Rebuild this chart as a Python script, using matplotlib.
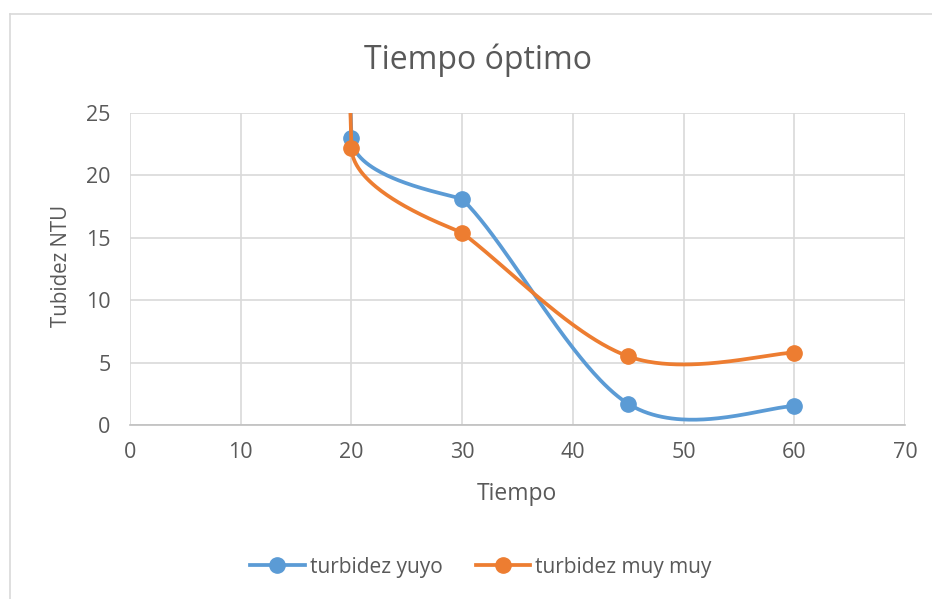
import numpy as np
import matplotlib.pyplot as plt
from matplotlib.lines import Line2D

plt.rcParams['font.family'] = ['Open Sans', 'DejaVu Sans']

# datos de turbidez (NTU) frente al tiempo (min); el primer valor es la turbidez inicial
tiempo = [20, 20, 30, 45, 60]
turb_yuyo = [300, 23.0, 18.1, 1.7, 1.5]
turb_muy_muy = [300, 22.2, 15.4, 5.5, 5.8]

x_ticks = [0, 10, 20, 30, 40, 50, 60, 70]
y_ticks = [0, 5, 10, 15, 20, 25]

AZUL = '#5B9BD5'
NARANJA = '#ED7D31'
GRIS_TXT = '#595959'

# escala aproximada en pixeles para suavizar como Excel
SX, SY = 11.07, 12.48


def suavizar(x, y, n=80):
    p = np.column_stack([np.asarray(x, float) * SX, np.asarray(y, float) * SY])
    k = len(p)
    out = [p[0]]
    for i in range(k - 1):
        a = p[i - 1] if i > 0 else p[i]
        d = p[i + 2] if i + 2 < k else p[i + 1]
        d12 = np.linalg.norm(p[i + 1] - p[i])
        dmax = max(np.linalg.norm(p[i + 1] - a), np.linalg.norm(d - p[i]))
        f = 1 / 6
        # tramos muy desiguales: reducir ambas tangentes
        if dmax * f > d12 / 2:
            f = d12 / (3 * dmax)
        c1 = p[i] + (p[i + 1] - a) * f
        c2 = p[i + 1] - (d - p[i]) * f
        s = np.linspace(0, 1, n)[1:, None]
        seg = ((1 - s) ** 3 * p[i] + 3 * (1 - s) ** 2 * s * c1
               + 3 * (1 - s) * s ** 2 * c2 + s ** 3 * p[i + 1])
        out.extend(seg)
    out = np.array(out)
    return out[:, 0] / SX, out[:, 1] / SY


fig = plt.figure(figsize=(9.32, 5.99), dpi=100)
ax = fig.add_axes([130 / 932, 1 - 425 / 599, 775 / 932, 312 / 599])

# borde del area del grafico
borde = dict(transform=fig.transFigure, color='#D9D9D9', linewidth=1.2)
fig.lines.append(Line2D([10 / 932, 1], [1 - 13.5 / 599] * 2, **borde))
fig.lines.append(Line2D([10 / 932] * 2, [0, 1 - 13.5 / 599], **borde))

series = [(turb_yuyo, AZUL, 'turbidez yuyo'),
          (turb_muy_muy, NARANJA, 'turbidez muy muy')]
for y, color, nombre in series:
    xs, ys = suavizar(tiempo, y)
    ax.plot(xs, ys, color=color, linewidth=2.7, solid_capstyle='round')
    ax.plot(tiempo, y, 'o', color=color, markersize=11)
    ax.plot([], [], '-o', color=color, linewidth=2.7, markersize=11, label=nombre)

ax.set_xlim(0, 70)
ax.set_ylim(0, 25)
ax.set_xticks(x_ticks)
ax.set_yticks(y_ticks)
ax.grid(True, color='#D9D9D9', linewidth=1.2)
ax.set_axisbelow(True)
for s in ['top', 'right', 'left']:
    ax.spines[s].set_visible(False)
ax.spines['bottom'].set_color('#BFBFBF')
ax.spines['bottom'].set_linewidth(1.2)
ax.tick_params(length=0, labelsize=15.5, labelcolor=GRIS_TXT)
ax.tick_params(axis='y', pad=14)
ax.tick_params(axis='x', pad=12)

ax.set_xlabel('Tiempo', fontsize=16.5, color=GRIS_TXT, va='center')
ax.xaxis.set_label_coords((517 - 130) / 775, -(494 - 425) / 312)
ax.set_ylabel('Tubidez NTU', fontsize=14.8, color=GRIS_TXT, va='center')
ax.yaxis.set_label_coords(-(130 - 61) / 775, (425 - 266) / 312)

fig.text(478 / 932, 1 - 69 / 599, 'Tiempo óptimo', fontsize=23,
         color=GRIS_TXT, ha='center', va='baseline')

fig.legend(loc='center', bbox_to_anchor=(481 / 932, 1 - 567 / 599), ncol=2,
           frameon=False, fontsize=15, labelcolor=GRIS_TXT,
           handlelength=2.6, columnspacing=1.6, handletextpad=0.25)

fig.savefig('out.png', dpi=100)
